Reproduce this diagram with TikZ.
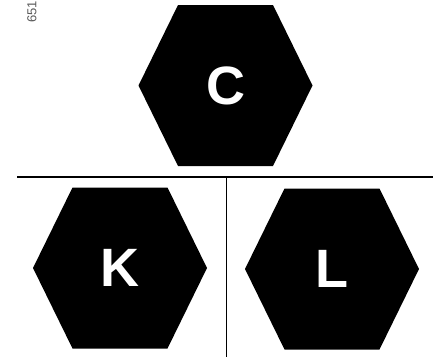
\documentclass[tikz,border=0pt]{standalone}
\usepackage{fontspec}
\setmainfont{Liberation Sans}
\usepackage{xcolor}
\usetikzlibrary{positioning}
\definecolor{ink}{RGB}{0,0,0}
\definecolor{tag}{RGB}{90,90,90}

\begin{document}
\begin{tikzpicture}[
  x=1pt,y=-1pt,
  letter/.style={text=white,font=\fontsize{54}{54}\selectfont\bfseries,inner sep=0pt},
  hexa/.style={fill=ink},
  rule/.style={draw=ink,line width=1.8pt},
  code/.style={text=tag,font=\fontsize{13}{13}\selectfont,rotate=90,anchor=east,inner sep=0pt}
]
\useasboundingbox (0,0) rectangle (437,359);
\foreach \nm/\cx/\cy in {C/225.5/85.5,K/120/268,L/332/269}{
  \fill[hexa] (\cx-87,\cy) -- (\cx-47.5,\cy-80.5) -- (\cx+47.5,\cy-80.5)
    -- (\cx+87,\cy) -- (\cx+47.5,\cy+80.5) -- (\cx-47.5,\cy+80.5) -- cycle;
  \node[letter] (\nm) at (\cx,\cy) {\nm};
}
\node[code] (num) at (32,1) {651};
\coordinate (hl) at (17,177);
\coordinate (hr) at (433,177);
\coordinate (vt) at (226.5,177);
\coordinate (vb) at (226.5,357);
\draw[rule] (hl) -- (hr);
\draw[rule] (vt) -- (vb);
\end{tikzpicture}
\end{document}
